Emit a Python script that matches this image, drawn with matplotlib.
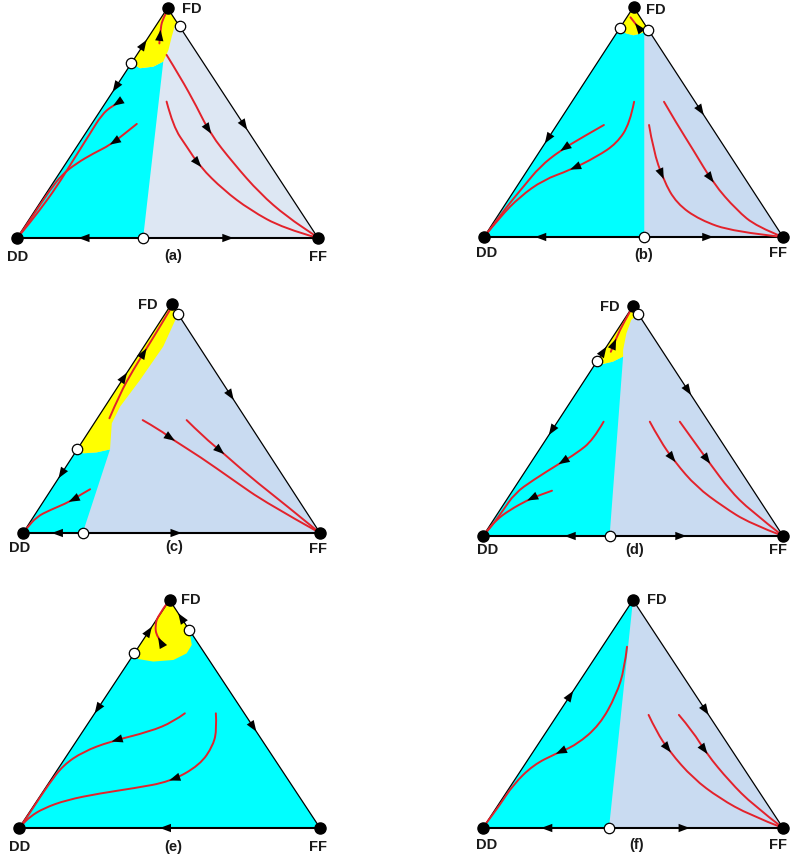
import numpy as np
import matplotlib.pyplot as plt
from matplotlib.patches import Polygon, FancyArrowPatch, PathPatch
from matplotlib.path import Path

# simplex coordinates: x = fraction along base DD->FF, y = fraction of height, FD at (0.5, 1)

# ---------------- panel (a) ----------------
a_cyan = [(0, 0), (0.419, 0), (0.486, 0.767), (0.453, 0.745), (0.409, 0.738), (0.38, 0.76)]
a_yellow = [(0.38, 0.76), (0.5, 1), (0.54, 0.92), (0.525, 0.926), (0.514, 0.875),
            (0.503, 0.817), (0.486, 0.767), (0.453, 0.745), (0.409, 0.738)]
a_curves = [
    [(0.348, 0.597), (0.315, 0.574), (0.281, 0.535), (0.243, 0.455), (0.187, 0.339),
     (0.132, 0.223), (0.076, 0.122), (0.010, 0.013), (0, 0)],
    [(0.398, 0.496), (0.359, 0.455), (0.309, 0.404), (0.254, 0.368), (0.198, 0.325),
     (0.148, 0.274), (0.110, 0.209), (0.072, 0.136), (0.021, 0.035), (0, 0)],
    [(0.497, 0.796), (0.542, 0.701), (0.597, 0.571), (0.641, 0.455), (0.719, 0.325),
     (0.807, 0.194), (0.896, 0.093), (0.996, 0.006), (1, 0)],
    [(0.497, 0.593), (0.519, 0.484), (0.564, 0.397), (0.608, 0.310), (0.686, 0.209),
     (0.774, 0.122), (0.885, 0.042), (1, 0)],
    [(0.473, 0.846), (0.477, 0.919), (0.486, 0.955), (0.497, 0.984)],
]
a_curve_arrows = [1, 2, 3, 3, 1]
a_edge_arrows = [('L', 0.861, 1), ('L', 0.636, -1), ('R', 0.47, -1), ('B', 0.204, -1), ('B', 0.719, 1)]
a_saddles = [('B', 0.419), ('L', 0.76), ('R', 0.92)]

# ---------------- panel (b) ----------------
b_cyan = [(0, 0), (0.536, 0), (0.536, 0.893), (0.525, 0.885), (0.5, 0.877), (0.475, 0.885), (0.4535, 0.907)]
b_yellow = [(0.4535, 0.907), (0.5, 1), (0.55, 0.90), (0.525, 0.885), (0.5, 0.877), (0.475, 0.885)]
b_curves = [
    [(0.401, 0.487), (0.332, 0.436), (0.254, 0.375), (0.187, 0.306), (0.132, 0.219),
     (0.076, 0.132), (0.003, 0.003), (0, 0)],
    [(0.502, 0.588), (0.488, 0.494), (0.444, 0.407), (0.377, 0.349), (0.288, 0.291),
     (0.198, 0.248), (0.120, 0.175), (0.054, 0.088), (0, 0)],
    [(0.552, 0.487), (0.566, 0.378), (0.600, 0.248), (0.644, 0.146), (0.722, 0.074),
     (0.834, 0.023), (1, 0)],
    [(0.602, 0.588), (0.644, 0.494), (0.700, 0.378), (0.767, 0.233), (0.845, 0.117),
     (0.912, 0.045), (1, 0)],
    [(0.52, 0.905), (0.505, 0.93), (0.49, 0.955)],
]
b_curve_arrows = [2, 4, 2, 3, 1]
b_edge_arrows = [('L', 0.407, -1), ('R', 0.530, -1), ('B', 0.171, -1), ('B', 0.767, 1)]
b_saddles = [('B', 0.536), ('L', 0.907), ('R', 0.90)]

# ---------------- panel (c) ----------------
c_cyan = [(0, 0), (0.201, 0), (0.293, 0.365), (0.248, 0.352), (0.203, 0.348), (0.1825, 0.365)]
c_yellow = [(0.1825, 0.365), (0.5, 1), (0.522, 0.956), (0.472, 0.814), (0.394, 0.668),
            (0.327, 0.552), (0.299, 0.479), (0.293, 0.365), (0.248, 0.352), (0.203, 0.348)]
c_curves = [
    [(0.291, 0.501), (0.327, 0.610), (0.371, 0.712), (0.416, 0.806), (0.461, 0.901), (0.501, 0.988)],
    [(0.226, 0.191), (0.192, 0.166), (0.158, 0.137), (0.091, 0.100), (0.046, 0.071),
     (0.012, 0.020), (0, 0)],
    [(0.403, 0.493), (0.461, 0.450), (0.506, 0.406), (0.596, 0.333), (0.708, 0.231),
     (0.820, 0.130), (1, 0)],
    [(0.551, 0.493), (0.607, 0.421), (0.675, 0.348), (0.764, 0.246), (0.877, 0.130), (1, 0)],
]
c_curve_arrows = [3, 2, 2, 2]
c_edge_arrows = [('L', 0.700, 1), ('L', 0.239, -1), ('R', 0.581, -1), ('B', 0.097, -1), ('B', 0.534, 1)]
c_saddles = [('B', 0.201), ('L', 0.365), ('R', 0.956)]

# ---------------- panel (d) ----------------
d_cyan = [(0, 0), (0.422, 0), (0.467, 0.78), (0.433, 0.758), (0.40, 0.748), (0.38, 0.76)]
d_yellow = [(0.38, 0.76), (0.5, 1), (0.5175, 0.965), (0.494, 0.939), (0.478, 0.881),
            (0.467, 0.809), (0.467, 0.78), (0.433, 0.758), (0.40, 0.748)]
d_curves = [
    [(0.426, 0.801), (0.446, 0.867), (0.468, 0.925), (0.496, 0.990)],
    [(0.402, 0.497), (0.367, 0.417), (0.311, 0.359), (0.256, 0.316), (0.167, 0.243),
     (0.106, 0.186), (0.064, 0.106), (0.017, 0.023), (0, 0)],
    [(0.230, 0.197), (0.189, 0.178), (0.150, 0.157), (0.089, 0.113), (0.044, 0.070),
     (0.011, 0.019), (0, 0)],
    [(0.556, 0.497), (0.589, 0.417), (0.639, 0.323), (0.711, 0.214), (0.800, 0.128),
     (0.889, 0.055), (1, 0)],
    [(0.656, 0.497), (0.700, 0.417), (0.756, 0.316), (0.822, 0.200), (0.889, 0.113), (1, 0)],
]
d_curve_arrows = [1, 3, 2, 2, 2]
d_edge_arrows = [('L', 0.823, 1), ('L', 0.439, -1), ('R', 0.613, -1), ('B', 0.272, -1), ('B', 0.678, 1)]
d_saddles = [('B', 0.422), ('L', 0.76), ('R', 0.965)]

# ---------------- panel (e) ----------------
e_cyan = [(0, 0), (1, 0), (0.5, 1)]
e_yellow = [(0.383, 0.766), (0.5, 1), (0.566, 0.868), (0.574, 0.803), (0.557, 0.766),
            (0.513, 0.737), (0.446, 0.730), (0.396, 0.741)]
e_curves = [
    [(0.480, 0.803), (0.457, 0.839), (0.452, 0.890), (0.463, 0.934), (0.496, 0.993)],
    [(0.551, 0.503), (0.513, 0.466), (0.435, 0.423), (0.302, 0.379), (0.214, 0.335),
     (0.147, 0.276), (0.097, 0.189), (0.053, 0.101), (0.009, 0.013), (0, 0)],
    [(0.654, 0.503), (0.657, 0.437), (0.646, 0.364), (0.601, 0.276), (0.502, 0.203),
     (0.380, 0.174), (0.269, 0.152), (0.158, 0.123), (0.081, 0.086), (0.037, 0.050),
     (0.009, 0.013), (0, 0)],
]
e_curve_arrows = [1, 3, 4]
e_edge_arrows = [('L', 0.883, 1), ('L', 0.503, -1), ('R', 0.942, 1), ('R', 0.423, -1), ('B', 0.468, -1)]
e_saddles = [('L', 0.766), ('R', 0.868)]

# ---------------- panel (f) ----------------
f_cyan = [(0, 0), (0.42, 0), (0.5, 1)]
f_yellow = [(0.492, 0.975), (0.5, 1), (0.51, 0.98)]
f_curves = [
    [(0.480, 0.795), (0.472, 0.700), (0.444, 0.583), (0.389, 0.452), (0.311, 0.364),
     (0.244, 0.327), (0.167, 0.276), (0.100, 0.189), (0.056, 0.101), (0.006, 0.013), (0, 0)],
    [(0.552, 0.496), (0.578, 0.423), (0.622, 0.335), (0.700, 0.218), (0.789, 0.130),
     (0.889, 0.057), (1, 0)],
    [(0.653, 0.496), (0.700, 0.423), (0.744, 0.328), (0.822, 0.204), (0.900, 0.101), (1, 0)],
]
f_curve_arrows = [5, 2, 2]
f_edge_arrows = [('L', 0.601, 1), ('R', 0.496, -1), ('B', 0.194, -1), ('B', 0.689, 1)]
f_saddles = [('B', 0.42)]

tags = ['(a)', '(b)', '(c)', '(d)', '(e)', '(f)']
vertex_names = ['DD', 'FF', 'FD']

# layout (pixels): DD corner x, y, base width, height
layout = [(17, 238, 301, 230), (484, 237, 299, 230), (23, 533, 297, 229),
          (483, 536, 300, 230), (19, 828, 301, 228), (483, 828, 300, 228)]
# label offsets in pixels (dx, dy down) for DD, FF, FD, tag
label_off = [
    [(1, 19), (0, 19), (24, 1), (6, 18)],
    [(3, 16), (-5, 16), (22, 3), (10, 18)],
    [(-3, 15), (-2, 16), (-24, 1), (3, 14)],
    [(5, 14), (-5, 14), (-23, 1), (2, 14)],
    [(1, 19), (-2, 19), (21, 0), (4, 19)],
    [(4, 17), (-5, 17), (24, 0), (4, 17)],
]

GRAY_A = '#dde7f3'
GRAY = '#c9dbf1'
CYAN = '#00ffff'
YELLOW = '#ffff00'
RED = '#e3222b'

panels = [
    (a_cyan, a_yellow, a_curves, a_curve_arrows, a_edge_arrows, a_saddles, GRAY_A),
    (b_cyan, b_yellow, b_curves, b_curve_arrows, b_edge_arrows, b_saddles, GRAY),
    (c_cyan, c_yellow, c_curves, c_curve_arrows, c_edge_arrows, c_saddles, GRAY),
    (d_cyan, d_yellow, d_curves, d_curve_arrows, d_edge_arrows, d_saddles, GRAY),
    (e_cyan, e_yellow, e_curves, e_curve_arrows, e_edge_arrows, e_saddles, GRAY),
    (f_cyan, f_yellow, f_curves, f_curve_arrows, f_edge_arrows, f_saddles, GRAY),
]


def edge_point(edge, t):
    if edge == 'L':
        return np.array([t / 2, t]), np.array([0.5, 1.0])
    if edge == 'R':
        return np.array([1 - t / 2, t]), np.array([-0.5, 1.0])
    return np.array([t, 0.0]), np.array([1.0, 0.0])


def arrowhead(ax, tip, d):
    d = np.asarray(d, float)
    d = d / np.hypot(*d)
    tail = np.asarray(tip) - 0.04 * d
    ax.add_patch(FancyArrowPatch(tail, tip, arrowstyle='-|>,head_length=0.8,head_width=0.3',
                                 mutation_scale=10, lw=0, color='black', shrinkA=0, shrinkB=0,
                                 zorder=6, clip_on=False))


def curve_path(c):
    # quadratic spline with the read points as control points
    verts = [c[0]]
    codes = [Path.MOVETO]
    for k in range(1, len(c) - 1):
        end = c[k + 1] if k == len(c) - 2 else (c[k] + c[k + 1]) / 2
        verts += [c[k], end]
        codes += [Path.CURVE3, Path.CURVE3]
    if len(c) == 2:
        verts.append(c[1])
        codes.append(Path.LINETO)
    return Path(verts, codes)


W_PX, H_PX = 791, 867
fig = plt.figure(figsize=(W_PX / 100, H_PX / 100), dpi=100)
tri = np.array([(0, 0), (1, 0), (0.5, 1)])

for i, (cyan, yellow, curves, carr, earr, sad, gray) in enumerate(panels):
    x0, y0, w, h = layout[i]
    ax = fig.add_axes([x0 / W_PX, 1 - y0 / H_PX, w / W_PX, h / H_PX])
    ax.set_xlim(0, 1)
    ax.set_ylim(0, 1)
    ax.axis('off')

    ax.add_patch(Polygon(tri, closed=True, fc=gray, ec='none', zorder=1))
    ax.add_patch(Polygon(cyan, closed=True, fc=CYAN, ec='none', zorder=2))
    ax.add_patch(Polygon(yellow, closed=True, fc=YELLOW, ec='none', zorder=3))

    ax.plot([0, 0.5, 1], [0, 1, 0], color='black', lw=0.9, zorder=4, clip_on=False)
    ax.plot([0, 1], [0, 0], color='black', lw=1.5, zorder=4, clip_on=False)

    for c, k in zip(curves, carr):
        c = np.array(c, float)
        ax.add_patch(PathPatch(curve_path(c), fc='none', ec=RED, lw=1.4, zorder=5,
                               capstyle='round', clip_on=False))
        m1 = (c[k - 1] + c[k]) / 2 if k > 1 else c[0]
        m2 = (c[k] + c[k + 1]) / 2 if k < len(c) - 2 else c[-1]
        tip = 0.25 * m1 + 0.5 * c[k] + 0.25 * m2
        arrowhead(ax, tip, m2 - m1)

    for edge, t, sgn in earr:
        p, d = edge_point(edge, t)
        arrowhead(ax, p, sgn * d)

    ax.plot(tri[:, 0], tri[:, 1], 'o', ms=8, color='black', zorder=7, clip_on=False)
    for edge, t in sad:
        p, _ = edge_point(edge, t)
        ax.plot(p[0], p[1], 'o', ms=7.5, mfc='white', mec='black', mew=0.9, zorder=8, clip_on=False)

    offs = label_off[i]
    pts = [(0, 0), (1, 0), (0.5, 1), (0.5, 0)]
    names = vertex_names + [tags[i]]
    for name, p, (dx, dy) in zip(names, pts, offs):
        ax.annotate(name, xy=p, xytext=(dx * 0.72, -dy * 0.72), textcoords='offset points',
                    ha='center', va='center', fontsize=10.5, fontweight='bold',
                    family='Liberation Sans', color='#1a1a1a', annotation_clip=False)

fig.savefig('out.png', dpi=100)
